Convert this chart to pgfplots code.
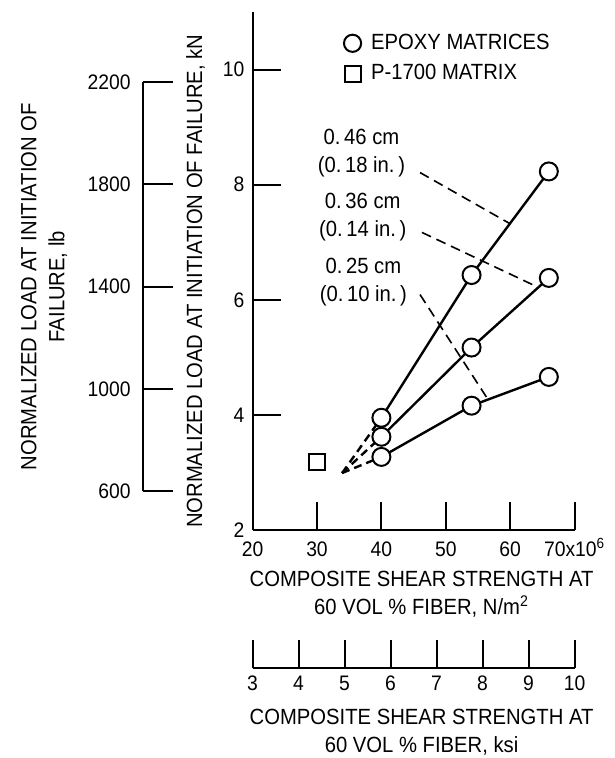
\documentclass[border=0pt]{standalone}
\usepackage{fontspec}
\setmainfont{Liberation Sans}[FakeStretch=0.92]
\usepackage{pgfplots}
\pgfplotsset{compat=1.18}
\begin{document}
\fontsize{11}{14}\selectfont
\begin{tikzpicture}
\pgfplotsset{every axis/.append style={font=\fontsize{11}{14}\selectfont,
  /pgf/number format/assume math mode=true, /pgf/number format/1000 sep={},
  tick label style={font=\fontsize{10.5}{13}\selectfont},
  line width=1pt, every tick/.style={line width=1pt, black}}}

% ---------------- main axis (kN vs N/m^2) ----------------
\begin{axis}[scale only axis, width=161pt, height=259pt, at={(0,0)}, anchor=south west,
  xmin=20, xmax=70, ymin=2, ymax=11,
  axis x line=bottom, axis y line=left,
  axis line style={-}, x axis line style={-}, y axis line style={-},
  tick align=inside, major tick length=14pt,
  xtick={20,30,40,50,60,70}, xticklabels={20,30,40,50,60,{70x10\textsuperscript{6}}},
  xticklabel style={text height=1.6ex, text depth=0.25ex},
  ytick={2,4,6,8,10},
  xlabel={COMPOSITE SHEAR STRENGTH AT\\60 VOL \% FIBER, N/m\textsuperscript{2}},
  xlabel style={align=center, yshift=2pt, xshift=4pt},
  ylabel={NORMALIZED LOAD AT INITIATION OF FAILURE, kN},
  every axis y label/.style={at={(axis description cs:-0.177,0.48)}, rotate=90, anchor=center},
  legend style={at={(0.262,0.975)}, anchor=north west, draw=none, fill=none, row sep=2pt,
    font=\fontsize{11}{14}\selectfont},
  legend cell align=left, clip=false]

\addlegendimage{only marks, mark=o, mark size=4.3pt, line width=1pt}
\addlegendentry{\hspace{3pt}EPOXY MATRICES}
\addlegendimage{only marks, mark=square, mark size=4pt, line width=1pt}
\addlegendentry{\hspace{3pt}P-1700 MATRIX}

% leader lines
\addplot[forget plot, line width=0.8pt, dash pattern=on 5pt off 3pt] coordinates {(46.0,8.21) (60.0,7.32)};
\addplot[forget plot, line width=0.8pt, dash pattern=on 5pt off 3pt] coordinates {(46.3,7.17) (63.9,6.24)};
\addplot[forget plot, line width=0.8pt, dash pattern=on 5pt off 3pt] coordinates {(46.0,6.09) (56.6,4.26)};

% extrapolations
\addplot[forget plot, line width=1.2pt, dash pattern=on 4pt off 2.5pt] coordinates {(33.9,2.99) (40,3.95)};
\addplot[forget plot, line width=1.2pt, dash pattern=on 4pt off 2.5pt] coordinates {(33.9,2.99) (40,3.62)};
\addplot[forget plot, line width=1.2pt, dash pattern=on 4pt off 2.5pt] coordinates {(33.9,2.99) (40,3.27)};

% data lines
\addplot[forget plot, line width=1.2pt] coordinates {(40,3.95) (54,6.43) (66,8.23)};
\addplot[forget plot, line width=1.2pt] coordinates {(40,3.62) (54,5.17) (66,6.38)};
\addplot[forget plot, line width=1.2pt] coordinates {(40,3.27) (54,4.16) (66,4.66)};

% markers
\addplot[forget plot, only marks, mark=*, mark size=4.5pt, mark options={fill=white, draw=black, line width=1pt}]
  coordinates {(40,3.95) (54,6.43) (66,8.23) (40,3.62) (54,5.17) (66,6.38) (40,3.27) (54,4.16) (66,4.66)};
\addplot[forget plot, only marks, mark=square*, mark size=4.2pt, mark options={fill=white, draw=black, line width=1pt}]
  coordinates {(30,3.18)};

\node[align=center, font=\fontsize{11}{14}\selectfont] at (axis cs:36.9,8.54) {0.\,46 cm\\(0.\,18 in.\,)};
\node[align=center, font=\fontsize{11}{14}\selectfont] at (axis cs:37.1,7.43) {0.\,36 cm\\(0.\,14 in.\,)};
\node[align=center, font=\fontsize{11}{14}\selectfont] at (axis cs:37.2,6.31) {0.\,25 cm\\(0.\,10 in.\,)};
\end{axis}

% ---------------- lb axis ----------------
\begin{axis}[scale only axis, width=10pt, height=204.8pt, at={(-54.8pt,19.25pt)}, anchor=south west,
  hide x axis, axis y line=left, axis line style={-}, y axis line style={-},
  xmin=0, xmax=1, ymin=600, ymax=2200, ytick={600,1000,1400,1800,2200},
  tick align=inside, major tick length=15pt,
  yticklabel style={xshift=-2pt},
  ylabel={NORMALIZED LOAD AT INITIATION OF\\FAILURE, lb},
  every axis y label/.style={at={(axis description cs:-4.95,0.5)}, rotate=90, anchor=center, align=center}]
\addplot[draw=none] coordinates {(0,600) (1,2200)};
\end{axis}

% ---------------- ksi axis ----------------
\begin{axis}[scale only axis, width=161pt, height=10pt, at={(0,-69pt)}, anchor=south west,
  hide y axis, axis x line=bottom, axis line style={-}, x axis line style={-},
  xmin=3, xmax=10, ymin=0, ymax=1, xtick={3,4,5,6,7,8,9,10},
  tick align=inside, major tick length=14pt,
  xlabel={COMPOSITE SHEAR STRENGTH AT\\60 VOL \% FIBER, ksi},
  xlabel style={align=center, yshift=-1pt, xshift=4pt}]
\addplot[draw=none] coordinates {(3,0) (10,1)};
\end{axis}

\pgfresetboundingbox
\path (-126.3pt,-114pt) rectangle (180.7pt,265pt);
\end{tikzpicture}
\end{document}
